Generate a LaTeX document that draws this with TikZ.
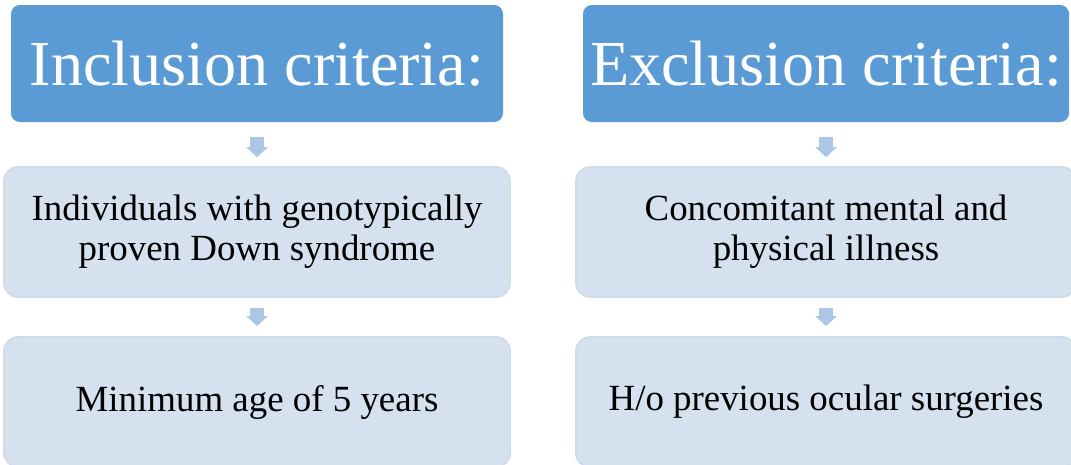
\documentclass[tikz,border=0pt]{standalone}
\usepackage{fontspec}
\setmainfont{Liberation Serif}
\usetikzlibrary{arrows.meta}

\definecolor{headblue}{RGB}{91,155,213}
\definecolor{itemblue}{RGB}{214,225,239}
\definecolor{itemedge}{RGB}{206,219,235}
\definecolor{arrowblue}{RGB}{172,199,230}

\begin{document}
\begin{tikzpicture} [x=0.02cm, y=-0.02cm,
  head/.style = {fill=headblue, rounded corners=5pt, text=white, inner sep=0pt,
    minimum height=117*0.02cm, font=\fontsize{36.5}{40}\selectfont},
  item/.style = {fill=itemblue, draw=itemedge, line width=1pt, rounded corners=8pt,
    inner sep=0pt, minimum height=130*0.02cm, align=center,
    font=\fontsize{21}{22.8}\selectfont},
  down/.style = {draw=arrowblue, line width=8.5pt,
    -{Triangle[width=12pt, length=5.7pt]}}]
\clip (0,0) rectangle (1071,464);
\def\xl{257}
\def\xr{826}
% left column
\node[head, minimum width=492*0.02cm] (incHead) at (\xl,63.5) {Inclusion criteria:};
\node[item, minimum width=506*0.02cm] (incOne) at (\xl,232) {Individuals with genotypically\\proven Down syndrome};
\node[item, minimum width=506*0.02cm] (incTwo) at (\xl,402) {Minimum age of 5 years};
% right column
\node[head, minimum width=486*0.02cm] (excHead) at (\xr,63.5) {Exclusion criteria:};
\node[item, minimum width=500*0.02cm] (excOne) at (\xr,232) {Concomitant mental and\\physical illness};
\node[item, minimum width=500*0.02cm] (excTwo) at (\xr,402) {H/o previous ocular surgeries};
% arrows
\foreach \a/\b/\s/\e in {incHead/incOne/8.5/5.1, incOne/incTwo/5.7/5.7,
                         excHead/excOne/8.5/5.1, excOne/excTwo/5.7/5.7}
  \draw[down, shorten <=\s pt, shorten >=\e pt] (\a) -- (\b);
\end{tikzpicture}
\end{document}
